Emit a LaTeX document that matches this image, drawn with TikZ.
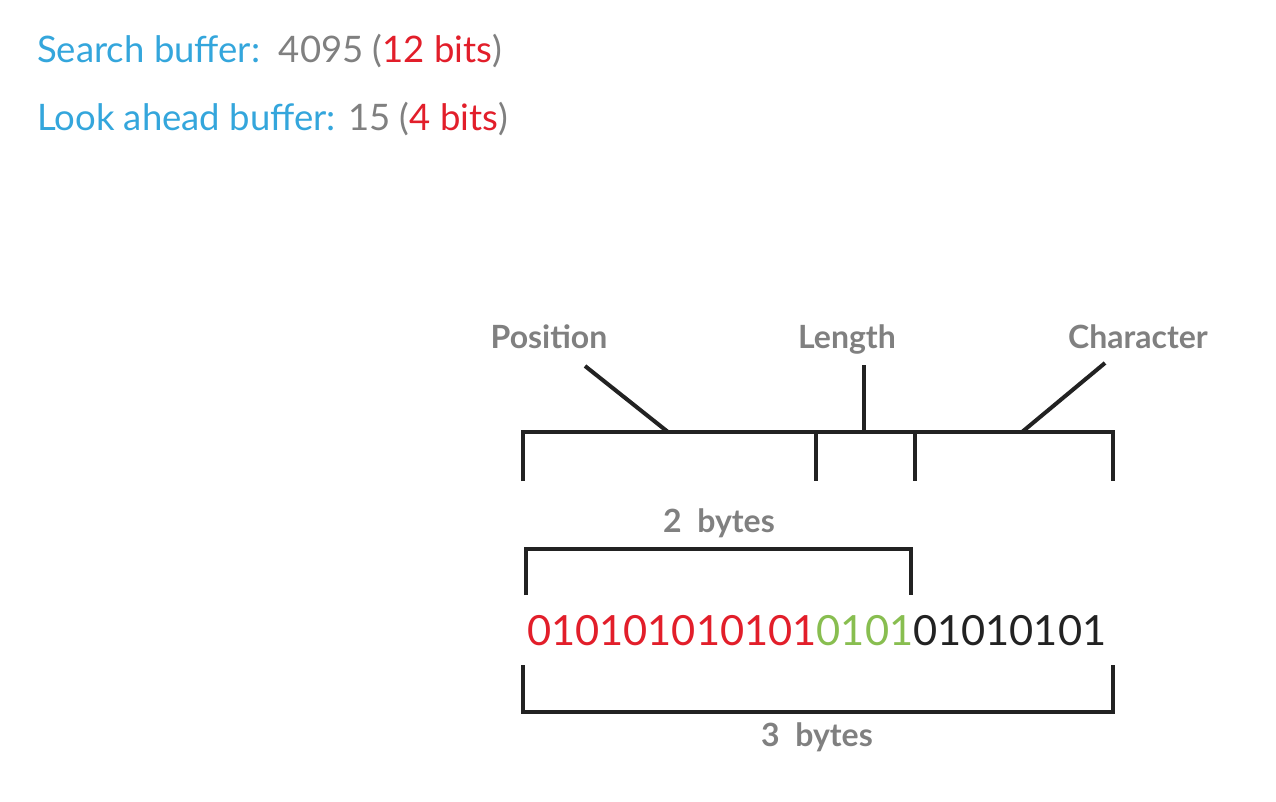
\documentclass[tikz,border=0pt]{standalone}
\usepackage{fontspec}
\setmainfont{Lato}
\definecolor{cblue}{RGB}{52,166,220}
\definecolor{cgray}{RGB}{128,128,128}
\definecolor{cred}{RGB}{226,30,42}
\definecolor{cgreen}{RGB}{136,190,80}
\definecolor{cblack}{RGB}{34,34,34}
\begin{document}
\begin{tikzpicture}[x=1pt,y=-1pt,
  bar/.style={draw=cblack,line width=4pt,line join=miter},
  head/.style={font=\fontsize{36.5}{42}\selectfont, inner sep=0pt, anchor=base west},
  lbl/.style={font=\fontsize{32}{38}\selectfont\bfseries, text=cgray, inner sep=0pt, anchor=base},
  bits/.style={font=\fontsize{41.6}{48}\selectfont, inner sep=0pt, anchor=base west}]
\useasboundingbox[fill=white] (0,0) rectangle (1276,802);
% header
\node[head] (sb) at (37,63) {\textcolor{cblue}{Search buffer:}\ \ \textcolor{cgray}{4095 (}\textcolor{cred}{12 bits}\textcolor{cgray}{)}};
\node[head] (lb) at (37,131) {\textcolor{cblue}{Look ahead buffer:} \textcolor{cgray}{15 (}\textcolor{cred}{4 bits}\textcolor{cgray}{)}};
% labels
\node[lbl] (pos) at (549,348) {Position};
\node[lbl] (len) at (847,348) {Length};
\node[lbl] (chr) at (1138,348) {Character};
% top bracket
\coordinate (tl) at (523,432);
\coordinate (tr) at (1113,432);
\coordinate (t1) at (816,432);
\coordinate (t2) at (915,432);
\coordinate (pj) at (668,432);
\coordinate (lj) at (864,432);
\coordinate (cj) at (1022,432);
\coordinate (pe) at (585,366);
\coordinate (le) at (864,365);
\coordinate (ce) at (1105,363);
\draw[bar] (523,481) -- (tl) -- (tr) -- (1113,481);
\draw[bar] (t1) -- (816,481);
\draw[bar] (t2) -- (915,481);
\draw[bar] (pe) -- (pj);
\draw[bar] (le) -- (lj);
\draw[bar] (ce) -- (cj);
% 2 bytes
\node[lbl] (two) at (719,532) {2\ \ bytes};
\draw[bar] (526,595) -- (526,549) -- (911,549) -- (911,595);
% bits
\node[bits] (bin) at (527,645) {\textcolor{cred}{010101010101}\textcolor{cgreen}{0101}\textcolor{cblack}{01010101}};
% 3 bytes
\draw[bar] (523,665) -- (523,712) -- (1113,712) -- (1113,665);
\node[lbl] (three) at (817,746) {3\ \ bytes};
\end{tikzpicture}
\end{document}
